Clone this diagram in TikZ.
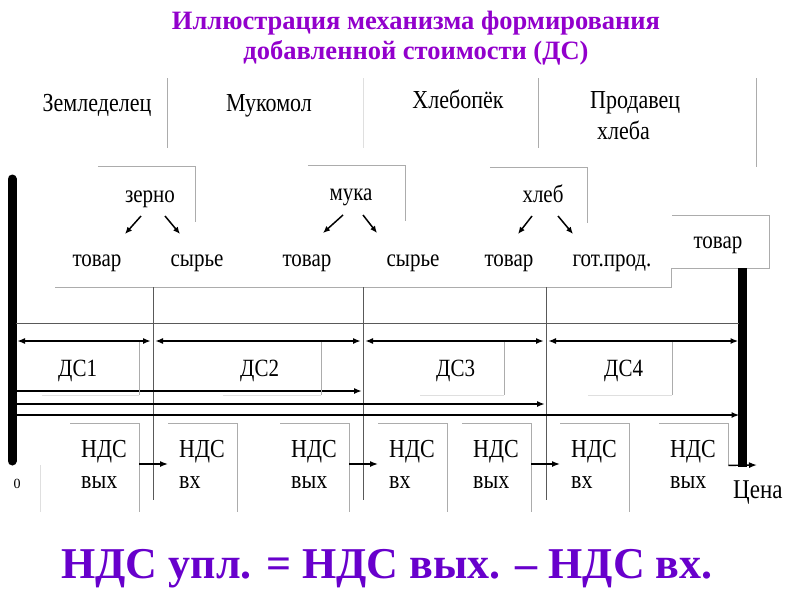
\documentclass[tikz,border=0pt]{standalone}
\usepackage{fontspec}
\usepackage{graphicx}
\setmainfont{Liberation Serif}
\usetikzlibrary{arrows.meta,positioning,calc}

\definecolor{titlepurple}{RGB}{146,0,204}
\definecolor{formulaviolet}{RGB}{104,0,204}
\newcommand{\tallword}[1]{\scalebox{1}[1.18]{#1}}

\begin{document}
\begin{tikzpicture}[
        x=1pt, y=-1pt,
        titletext/.style={font=\fontsize{26.5}{30}\selectfont\bfseries, text=titlepurple, inner sep=0, anchor=base},
        head/.style={font=\fontsize{22}{26}\selectfont, inner sep=0, anchor=base},
        word/.style={font=\fontsize{21}{25}\selectfont, inner sep=0, anchor=base},
        goodbox/.style={minimum width=97, minimum height=55, inner sep=0},
        dsbox/.style={anchor=north west, minimum width=#1, minimum height=53, inner sep=0},
        ndsbox/.style={anchor=north west, minimum width=69, minimum height=#1, inner sep=0},
        ndstext/.style={font=\fontsize{22}{26}\selectfont, inner sep=0, anchor=base west},
        boxline/.style={draw=gray!65, line width=0.8},
        faintline/.style={draw=gray!25, line width=0.8},
        gridline/.style={draw=black!65, line width=0.9},
        scaleaxis/.style={line width=9},
        valueline/.style={line width=2, {Latex[length=8pt,width=6pt]}-{Latex[length=8pt,width=6pt]}},
        total/.style={line width=2, -{Latex[length=8pt,width=6pt]}},
        flow/.style={line width=1.4, -{Latex[length=8pt,width=6pt]}},
        split/.style={line width=1.5, -{Latex[length=7pt,width=6pt]}}
    ]
    \useasboundingbox (0,0) rectangle (800,600);

    % title
    \node[titletext] (title1) at (416,29) {Иллюстрация механизма формирования};
    \node[titletext] (title2) at (416,59) {добавленной стоимости (ДС)};

    % participants
    \node[head] (farmer) at (97,111) {\tallword{Земледелец}};
    \node[head] (miller) at (269,111) {\tallword{Мукомол}};
    \node[head] (baker) at (458,108) {\tallword{Хлебопёк}};
    \node[head, anchor=base west] (seller) at (590,108) {\tallword{Продавец}};
    \node[head, anchor=base west] (seller2) at (597,139) {\tallword{хлеба}};
    \draw[boxline] (167,78) -- (167,148);
    \draw[faintline] (363,78) -- (363,148);
    \draw[boxline] (538,78) -- (538,148);
    \draw[boxline] (756,78) -- (756,167);

    % goods
    \node[goodbox] (grain) at (146.5,194.5) {};
    \node[word] (grain-t) at (150,202) {\tallword{зерно}};
    \node[goodbox] (flour) at (356.5,193.5) {};
    \node[word] (flour-t) at (351,200) {\tallword{мука}};
    \node[goodbox] (bread) at (538.5,195) {};
    \node[word] (bread-t) at (543,202) {\tallword{хлеб}};
    \draw[boxline] (grain.north west) -- (grain.north east) -- (grain.south east);
    \draw[boxline] (flour.north west) -- (flour.north east) -- (flour.south east);
    \draw[boxline] (bread.north west) -- (bread.north east) -- (bread.south east);

    \draw[split] ($(grain-t.base)+(-9,14)$) -- ++(-16,18);
    \draw[split] ($(grain-t.base)+(15,14)$) -- ++(15,18);
    \draw[split] ($(flour-t.base)+(-8,15)$) -- ++(-20,18);
    \draw[split] ($(flour-t.base)+(12,15)$) -- ++(14,18);
    \draw[split] ($(bread-t.base)+(-11,14)$) -- ++(-14,18);
    \draw[split] ($(bread-t.base)+(15,14)$) -- ++(15,18);

    \node[word] (goods1) at (97,266) {\tallword{товар}};
    \node[word] (raw1) at (197,266) {\tallword{сырье}};
    \node[word] (goods2) at (307,266) {\tallword{товар}};
    \node[word] (raw2) at (413,266) {\tallword{сырье}};
    \node[word] (goods3) at (509,266) {\tallword{товар}};
    \node[word] (ready) at (612,266) {\tallword{гот.прод.}};
    \node[minimum width=97, minimum height=52, inner sep=0] (retail) at (720.5,242) {};
    \node[word] (retail-t) at (718,248) {\tallword{товар}};
    \coordinate (rowstart) at (55,287);
    \draw[boxline] (rowstart) -- (retail.south west |- rowstart) -- (retail.south west)
        -- (retail.south east) -- (retail.north east) -- (retail.north west);

    % axes and grid
    \coordinate (axL) at (12,179);
    \coordinate (axLb) at (12,461);
    \coordinate (axR) at (742.5,268);
    \coordinate (axRb) at (742.5,467);
    \coordinate (v1) at (153,287);
    \coordinate (v2) at (363,287);
    \coordinate (v3) at (546,287);
    \coordinate (r0) at (0,323);
    \coordinate (r1) at (0,341);
    \coordinate (r2) at (0,391);
    \coordinate (r3) at (0,404);
    \coordinate (r4) at (0,415);
    \coordinate (r5) at (0,464);
    \coordinate (rb) at (0,500);

    \draw[scaleaxis, line cap=round] (axL) -- (axLb);
    \draw[scaleaxis] (axR) -- (axRb);
    \draw[gridline] ([xshift=4pt]axL |- r0) -- ([xshift=-4pt]axR |- r0);
    \draw[gridline] (v1) -- (v1 |- rb);
    \draw[gridline] (v2) -- (v2 |- rb);
    \draw[gridline] (v3) -- (v3 |- rb);

    \draw[valueline] ([xshift=5pt]axL |- r1) -- ([xshift=-2pt]v1 |- r1);
    \draw[valueline] ([xshift=2pt]v1 |- r1) -- ([xshift=-2pt]v2 |- r1);
    \draw[valueline] ([xshift=2pt]v2 |- r1) -- ([xshift=-2pt]v3 |- r1);
    \draw[valueline] ([xshift=2pt]v3 |- r1) -- ([xshift=-4pt]axR |- r1);
    \draw[total] ([xshift=4pt]axL |- r2) -- ([xshift=-1pt]v2 |- r2);
    \draw[total] ([xshift=4pt]axL |- r3) -- ([xshift=-1pt]v3 |- r3);
    \draw[total] ([xshift=4pt]axL |- r4) -- ([xshift=-3pt]axR |- r4);

    % value added
    \node[dsbox=97] (ds1) at (42,342) {};
    \node[dsbox=98] (ds2) at (223,342) {};
    \node[dsbox=84] (ds3) at (420,342) {};
    \node[dsbox=84] (ds4) at (588,342) {};
    \node[word, anchor=base west] (ds1-t) at ($(ds1.north west)+(16,34)$) {\tallword{ДС1}};
    \node[word, anchor=base west] (ds2-t) at ($(ds2.north west)+(17,34)$) {\tallword{ДС2}};
    \node[word, anchor=base west] (ds3-t) at ($(ds3.north west)+(16,34)$) {\tallword{ДС3}};
    \node[word, anchor=base west] (ds4-t) at ($(ds4.north west)+(16,34)$) {\tallword{ДС4}};
    \draw[boxline] (ds1.north east) -- (ds1.south east);
    \draw[boxline] (ds2.north east) -- (ds2.south east);
    \draw[boxline] (ds3.north east) -- (ds3.south east);
    \draw[boxline] (ds4.north east) -- (ds4.south east);
    \draw[faintline] (ds1.south west) -- (ds1.south east);
    \draw[faintline] (ds2.south west) -- (ds2.south east);
    \draw[faintline] (ds3.south west) -- (ds3.south east);
    \draw[faintline] (ds4.south west) -- (ds4.south east);

    % VAT boxes
    \foreach \bx/\tx/\bh [count=\i] in {70/вых/89, 168/вх/89, 280/вых/89, 378/вх/89,
            462/вых/89, 560/вх/89, 659/вых/42} {
        \node[ndsbox=\bh] (nds\i) at (\bx,423) {};
        \node[ndstext] (nds\i-a) at ($(nds\i.north west)+(11,34)$) {\tallword{НДС}};
        \node[ndstext] (nds\i-b) at ($(nds\i.north west)+(11,65)$) {\tallword{\tx}};
        \draw[boxline] (nds\i.north west) -- (nds\i.north east) -- (nds\i.south east);
    }
    \draw[flow] (nds1.north east |- r5) -- (nds2.north west |- r5);
    \draw[flow] (nds3.north east |- r5) -- (nds4.north west |- r5);
    \draw[flow] (nds5.north east |- r5) -- (nds6.north west |- r5);
    \coordinate (priceend) at (757,465);
    \draw[flow] (nds7.south east) -- (priceend);

    \node[font=\fontsize{14}{16}\selectfont, inner sep=0, anchor=base] (zero) at (17,488) {0};
    \draw[faintline] (40,465) -- (40,512);
    \node[font=\fontsize{23}{27}\selectfont, inner sep=0, anchor=base west] (price) at (733,498) {\tallword{Цена}};

    % formula
    \node[font=\fontsize{44}{50}\selectfont\bfseries, text=formulaviolet, inner sep=0, anchor=base]
        (formula) at (387,578) {НДС упл. = НДС вых. – НДС вх.};
\end{tikzpicture}
\end{document}
